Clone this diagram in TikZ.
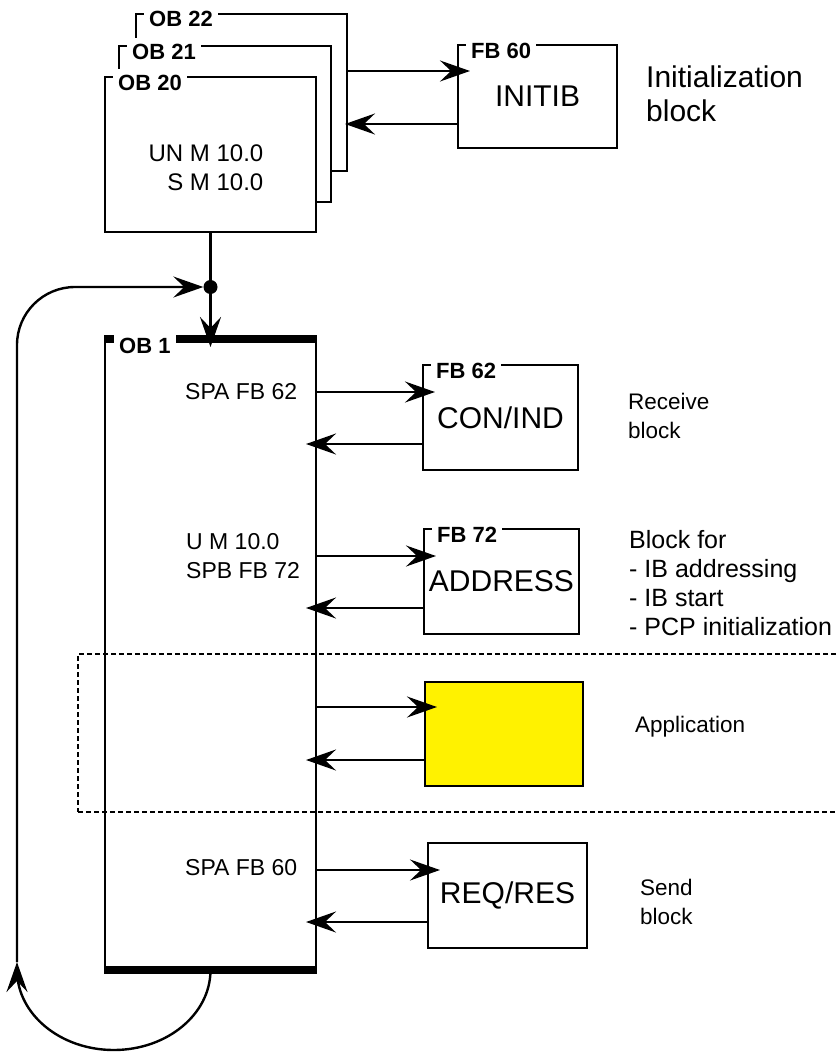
\documentclass[tikz,border=0pt]{standalone}
\usepackage{fontspec}
\setmainfont{Liberation Sans}
\usetikzlibrary{arrows.meta,calc}

\begin{document}
\begin{tikzpicture}[x=1pt, y=-1pt,
    obbox/.style={draw, fill=white, line width=2.4pt, anchor=north west,
                  inner sep=0pt, outer sep=0pt},
    fbbox/.style={draw, fill=white, line width=2.4pt, anchor=north west,
                  inner sep=0pt, outer sep=0pt, minimum width=157pt,
                  minimum height=105pt, font=\fontsize{30}{34}\selectfont},
    tag/.style={anchor=base west, fill=white, inner xsep=5pt, inner ysep=6pt,
                font=\bfseries\fontsize{22}{26}\selectfont},
    code/.style={align=left, inner sep=0pt, font=\fontsize{23}{29}\selectfont},
    note/.style={anchor=west, align=left, inner sep=0pt,
                 font=\fontsize{22.5}{29}\selectfont},
    arr/.style={line width=2.4pt, -{Stealth[length=30pt,width=21pt,inset=11pt]}},
    bar/.style={line width=8pt}]

  \useasboundingbox (0,0) rectangle (836,1052);

  % application frame
  \node[draw, dash pattern=on 5pt off 3pt, line width=2pt,
        anchor=north west, inner sep=0pt, minimum width=780pt,
        minimum height=158pt] (appgroup) at (77,653) {};

  % start-up OBs, stacked
  \node[obbox, minimum width=211pt, minimum height=157pt] (ob22) at (136,14) {};
  \node[tag] (ob22tag) at ([xshift=8pt,yshift=-13pt]ob22.north west) {OB 22};
  \node[obbox, minimum width=212pt, minimum height=156pt] (ob21) at (119,46) {};
  \node[tag] (ob21tag) at ([xshift=8pt,yshift=-13pt]ob21.north west) {OB 21};
  \node[obbox, minimum width=211pt, minimum height=155pt] (ob20) at (105,77) {};
  \node[tag] (ob20tag) at ([xshift=8pt,yshift=-13pt]ob20.north west) {OB 20};
  \node[code, align=right, font=\fontsize{24}{29}\selectfont] (ob20code) at (206,168)
    {UN M 10.0\\S M 10.0};

  \node[fbbox, minimum width=159pt, minimum height=103pt] (initib) at (458,45) {INITIB};
  \node[tag] (initibtag) at ([xshift=8pt,yshift=-13pt]initib.north west) {FB 60};
  \draw[arr] ([yshift=-26pt]initib.north west -| ob22.east)
     -- ([xshift=12pt,yshift=-26pt]initib.north west);
  \draw[arr] ([yshift=-79pt]initib.north west)
     -- ([xshift=-2pt,yshift=-79pt]initib.north west -| ob22.east);
  \node[note, font=\fontsize{30}{34}\selectfont] (initnote) at (646,94)
    {Initialization\\block};

  % cyclic OB 1
  \node[draw, line width=2.4pt, anchor=north west, inner sep=0pt, outer sep=0pt,
        minimum width=211pt, minimum height=631pt] (ob1) at (105,339) {};
  \draw[bar] ([xshift=-1pt]ob1.north west) -- ([xshift=1pt]ob1.north east);
  \draw[bar] ([xshift=-1pt]ob1.south west) -- ([xshift=1pt]ob1.south east);
  \node[tag] (ob1tag) at ([xshift=9pt,yshift=-14pt]ob1.north west) {OB 1};

  \node[code, anchor=west] (spa62) at (185,392) {SPA FB 62};
  \node[code, anchor=west] (spb72) at (186,556) {U M 10.0\\SPB FB 72};
  \node[code, anchor=west] (spa60) at (185,868) {SPA FB 60};

  \draw[arr, shorten >=-8pt] (ob20.south) -- (ob1.north);
  \node[circle, fill, inner sep=0pt, minimum size=14pt] (junc) at (210.5,287) {};

  % loop back
  \draw[arr] (ob1.south) arc[start angle=0, end angle=180, x radius=96.75, y radius=80]
     -- ++(0,-8) coordinate (loopup);
  \draw[arr, rounded corners=58pt] (loopup) |- (junc);

  % called FBs
  \node[fbbox, minimum width=155pt] (conind) at (423,365) {CON/IND};
  \node[tag] (conindtag) at ([xshift=8pt,yshift=-13pt]conind.north west) {FB 62};
  \node[fbbox, minimum width=155pt] (address) at (424,529) {ADDRESS};
  \node[tag] (addresstag) at ([xshift=8pt,yshift=-13pt]address.north west) {FB 72};
  \node[fbbox, fill=yellow, minimum width=158pt, minimum height=104pt] (appl) at (425,682) {};
  \node[fbbox, minimum width=159pt] (reqres) at (428,843) {REQ/RES};

  \draw[arr] ([yshift=-27pt]conind.north west -| ob1.east)
     -- ([xshift=12pt,yshift=-27pt]conind.north west);
  \draw[arr] ([yshift=-79pt]conind.north west)
     -- ([xshift=-10pt,yshift=-79pt]conind.north west -| ob1.east);
  \draw[arr] ([yshift=-27pt]address.north west -| ob1.east)
     -- ([xshift=12pt,yshift=-27pt]address.north west);
  \draw[arr] ([yshift=-79pt]address.north west)
     -- ([xshift=-10pt,yshift=-79pt]address.north west -| ob1.east);
  \draw[arr] ([yshift=-25pt]appl.north west -| ob1.east)
     -- ([xshift=12pt,yshift=-25pt]appl.north west);
  \draw[arr] ([yshift=-78pt]appl.north west)
     -- ([xshift=-10pt,yshift=-78pt]appl.north west -| ob1.east);
  \draw[arr] ([yshift=-27pt]reqres.north west -| ob1.east)
     -- ([xshift=12pt,yshift=-27pt]reqres.north west);
  \draw[arr] ([yshift=-79pt]reqres.north west)
     -- ([xshift=-10pt,yshift=-79pt]reqres.north west -| ob1.east);

  \node[note] (recvnote) at (628,416) {Receive\\block};
  \node[note, font=\fontsize{25}{29}\selectfont] (addrnote) at (629,583)
    {Block for\\- IB addressing\\- IB start\\- PCP initialization};
  \node[note] (appnote) at (635,727) {Application};
  \node[note] (sendnote) at (640,902) {Send\\block};
\end{tikzpicture}
\end{document}
